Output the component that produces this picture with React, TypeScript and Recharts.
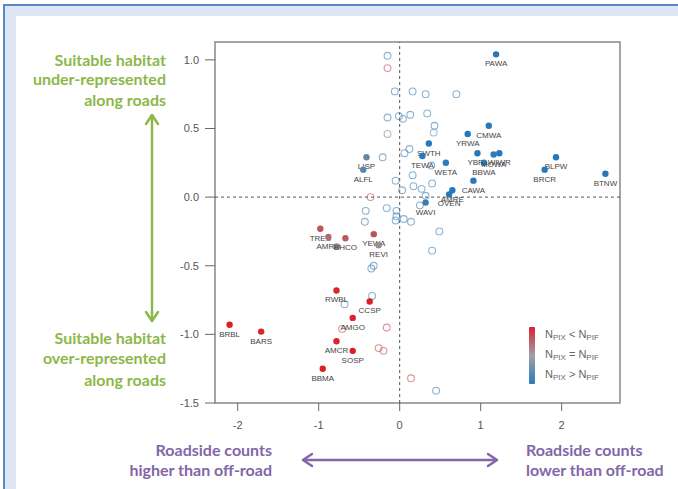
import React from "react";
import { ReferenceArea, ReferenceLine, Scatter, ScatterChart, XAxis, YAxis } from "recharts";

// labelled species (filled dots)
const speciesCodes = [
  "PAWA", "CMWA", "YRWA", "SWTH", "TEWA", "WETA", "YBFL", "BBWA", "MOWA", "WIWR", "CAWA",
  "BLPW", "BRCR", "BTNW", "AMRE", "OVEN", "WAVI", "LISP", "ALFL", "TRES", "AMRO", "",
  "BHCO", "YEWA", "REVI", "RWBL", "CCSP", "AMGO", "AMCR", "SOSP", "BBMA", "BRBL", "BARS",
];
const speciesRoadEffect = [
  1.19, 1.1, 0.84, 0.36, 0.28, 0.57, 0.96, 1.04, 1.16, 1.23, 0.91,
  1.93, 1.79, 2.54, 0.65, 0.61, 0.32, -0.41, -0.45, -0.98, -0.88, -0.78,
  -0.67, -0.32, -0.26, -0.78, -0.37, -0.58, -0.78, -0.58, -0.95, -2.1, -1.71,
];
const speciesHabitatBias = [
  1.04, 0.52, 0.46, 0.39, 0.3, 0.25, 0.32, 0.25, 0.31, 0.32, 0.12,
  0.29, 0.2, 0.17, 0.05, 0.02, -0.04, 0.29, 0.2, -0.23, -0.29, -0.36,
  -0.3, -0.27, -0.35, -0.68, -0.76, -0.88, -1.05, -1.12, -1.25, -0.93, -0.98,
];
// -1 = N_PIX > N_PIF (blue), 1 = N_PIX < N_PIF (red)
const speciesCountRatio = [
  -1, -1, -1, -1, -1, -0.95, -1, -0.95, -0.9, -1, -1,
  -1, -1, -1, -1, -1, -0.8, -0.45, -0.55, 0.55, 0.35, 0.15,
  0.5, 0.55, 0.1, 0.95, 1, 0.95, 0.95, 1, 1, 1, 0.95,
];

// non-significant species (open circles)
const otherRoadEffect = [
  -0.15, -0.15, -0.06, 0.16, 0.32, 0.7, -0.15, -0.01, 0.04, 0.13, 0.34, 0.43, -0.15, 0.42,
  0.12, 0.06, -0.21, 0.39, 0.16, 0.17, 0.27, 0.4, -0.05, 0.03, 0.32, 0.25, -0.36, -0.42,
  -0.43, -0.16, -0.04, -0.04, -0.05, 0.05, 0.14, 0.49, 0.4, -0.32, -0.35, -0.34, -0.68,
  -0.71, -0.16, -0.26, -0.2, 0.14, 0.45,
];
const otherHabitatBias = [
  1.03, 0.94, 0.77, 0.77, 0.75, 0.75, 0.58, 0.59, 0.57, 0.6, 0.61, 0.52, 0.46, 0.47,
  0.35, 0.32, 0.29, 0.23, 0.16, 0.08, 0.06, 0.1, 0.12, 0.05, 0.01, -0.06, 0.0, -0.1,
  -0.18, -0.08, -0.1, -0.14, -0.17, -0.16, -0.18, -0.25, -0.39, -0.5, -0.52, -0.72, -0.78,
  -0.96, -0.95, -1.1, -1.12, -1.32, -1.41,
];
const otherCountRatio = [
  -0.8, 0.6, -0.8, -0.8, -0.8, -0.8, -0.8, -0.8, -0.8, -0.8, -0.8, -0.8, -0.3, -0.3,
  -0.8, -0.8, -0.8, -0.8, -0.8, -0.8, -0.8, -0.8, -0.8, -0.8, -0.8, -0.8, 0.6, -0.8,
  -0.8, -0.8, -0.8, -0.8, -0.8, -0.8, -0.8, -0.8, -0.8, -0.8, -0.8, -0.8, -0.7,
  0.6, 0.6, 0.6, 0.6, 0.6, -0.8,
];

const xTicks = [-2, -1, 0, 1, 2];
const yTicks = [-1.5, -1, -0.5, 0, 0.5, 1];
const xDomain: [number, number] = [-2.28, 2.72];
const yDomain: [number, number] = [-1.5, 1.13];

type BirdPoint = { name: string; x: number; y: number; ratio: number };

const labelledData: BirdPoint[] = speciesCodes.map((name, i) => ({
  name,
  x: speciesRoadEffect[i],
  y: speciesHabitatBias[i],
  ratio: speciesCountRatio[i],
}));

const otherData: BirdPoint[] = otherRoadEffect.map((x, i) => ({
  name: "",
  x,
  y: otherHabitatBias[i],
  ratio: otherCountRatio[i],
}));

function mix(a: number[], b: number[], t: number): string {
  const c = a.map((v, i) => Math.round(v + (b[i] - v) * t));
  return `rgb(${c[0]},${c[1]},${c[2]})`;
}

function ratioColor(ratio: number): string {
  const grey = [150, 150, 150];
  if (ratio >= 0) return mix(grey, [218, 32, 38], ratio);
  return mix(grey, [38, 120, 186], -ratio);
}

function FilledDot(props: any) {
  const { cx, cy, payload } = props;
  if (cx == null || cy == null) return null;
  return (
    <g>
      <circle cx={cx} cy={cy} r={3.2} fill={ratioColor(payload.ratio)} />
      {payload.name ? (
        <text x={cx} y={cy + 12} textAnchor="middle" fontSize={8} fill="#444" fontFamily="Liberation Sans, Arial, sans-serif">
          {payload.name}
        </text>
      ) : null}
    </g>
  );
}

function OpenDot(props: any) {
  const { cx, cy, payload } = props;
  if (cx == null || cy == null) return null;
  return <circle cx={cx} cy={cy} r={3.4} fill="none" stroke={ratioColor(payload.ratio)} strokeOpacity={0.6} strokeWidth={1.1} />;
}

const axisFont = { fontSize: 11, fill: "#555", fontFamily: "Liberation Sans, Arial, sans-serif" };
const green = "#8cb84a";
const purple = "#8266a8";
const noteFont = "Lato, 'Open Sans', sans-serif";

export default function App() {
  return (
    <div style={{ position: "absolute", left: 0, top: 0, width: 678, height: 489, background: "#fff", overflow: "hidden" }}>
      {/* slide frame */}
      <div style={{ position: "absolute", left: 4, top: 5, width: 674, height: 11, background: "#dce6f3" }} />
      <div style={{ position: "absolute", left: 4, top: 5, width: 12, height: 484, background: "#dce6f3" }} />
      <div style={{ position: "absolute", left: 3, top: 4, width: 675, height: 2, background: "#5a87c6" }} />
      <div style={{ position: "absolute", left: 3, top: 4, width: 2, height: 485, background: "#5a87c6" }} />

      <div style={{ position: "absolute", left: 0, top: 0 }}>
        <ScatterChart width={678} height={489} margin={{ top: 42, right: 58, bottom: 56, left: 155 }}>
          <XAxis
            type="number"
            dataKey="x"
            domain={xDomain}
            allowDataOverflow
            ticks={xTicks}
            tickFormatter={(v: number) => String(v)}
            axisLine={false}
            tickLine={{ stroke: "#666" }}
            tickSize={8}
            tickMargin={10}
            tick={axisFont}
            height={30}
          />
          <YAxis
            type="number"
            dataKey="y"
            domain={yDomain}
            allowDataOverflow
            ticks={yTicks}
            tickFormatter={(v: number) => v.toFixed(1)}
            axisLine={false}
            tickLine={{ stroke: "#666" }}
            tickSize={10}
            tickMargin={6}
            tick={axisFont}
            width={60}
          />
          <ReferenceArea x1={xDomain[0]} x2={xDomain[1]} y1={yDomain[0]} y2={yDomain[1]} fill="none" stroke="#888" strokeWidth={1.5} />
          <ReferenceLine x={0} stroke="#555" strokeDasharray="3 3" />
          <ReferenceLine y={0} stroke="#555" strokeDasharray="3 3" />
          <Scatter data={otherData} shape={OpenDot} isAnimationActive={false} />
          <Scatter data={labelledData} shape={FilledDot} isAnimationActive={false} />
        </ScatterChart>
      </div>

      <svg width={678} height={489} style={{ position: "absolute", left: 0, top: 0, pointerEvents: "none" }}>
        <defs>
          <linearGradient id="ratioGrad" x1="0" y1="0" x2="0" y2="1">
            <stop offset="0%" stopColor="#dd2030" />
            <stop offset="50%" stopColor="#a0a0a8" />
            <stop offset="100%" stopColor="#2a7cbc" />
          </linearGradient>
        </defs>

        {/* y annotation */}
        <g fontFamily={noteFont} fontWeight={700} fontSize={16} fill={green} textAnchor="end">
          <text x={166} y={66}>Suitable habitat</text>
          <text x={166} y={85}>under-represented</text>
          <text x={166} y={106}>along roads</text>
          <text x={166} y={344}>Suitable habitat</text>
          <text x={166} y={364}>over-represented</text>
          <text x={166} y={386}>along roads</text>
        </g>
        <g stroke={green} strokeWidth={2.5} fill="none" strokeLinecap="round" strokeLinejoin="round">
          <line x1={152} y1={116} x2={152} y2={320} />
          <polyline points="146,124 152,115 158,124" />
          <polyline points="146,312 152,321 158,312" />
        </g>

        {/* x annotation */}
        <g fontFamily={noteFont} fontWeight={700} fontSize={16} fill={purple}>
          <text x={272} y={456} textAnchor="end">Roadside counts</text>
          <text x={272} y={476} textAnchor="end">higher than off-road</text>
          <text x={526} y={456}>Roadside counts</text>
          <text x={526} y={476}>lower than off-road</text>
        </g>
        <g stroke={purple} strokeWidth={2.5} fill="none" strokeLinecap="round" strokeLinejoin="round">
          <line x1={304} y1={460} x2={496} y2={460} />
          <polyline points="312,454 303,460 312,466" />
          <polyline points="488,454 497,460 488,466" />
        </g>

        {/* colour legend */}
        <rect x={529} y={327} width={6} height={57} rx={1} fill="url(#ratioGrad)" />
        <g fontFamily="Liberation Sans, Arial, sans-serif" fontSize={11} fill="#666">
          <text x={545} y={338}>
            N<tspan fontSize={8} dy={2}>PIX</tspan>
            <tspan dy={-2}> &lt; N</tspan>
            <tspan fontSize={8} dy={2}>PIF</tspan>
          </text>
          <text x={545} y={358}>
            N<tspan fontSize={8} dy={2}>PIX</tspan>
            <tspan dy={-2}> = N</tspan>
            <tspan fontSize={8} dy={2}>PIF</tspan>
          </text>
          <text x={545} y={378}>
            N<tspan fontSize={8} dy={2}>PIX</tspan>
            <tspan dy={-2}> &gt; N</tspan>
            <tspan fontSize={8} dy={2}>PIF</tspan>
          </text>
        </g>
      </svg>
    </div>
  );
}
